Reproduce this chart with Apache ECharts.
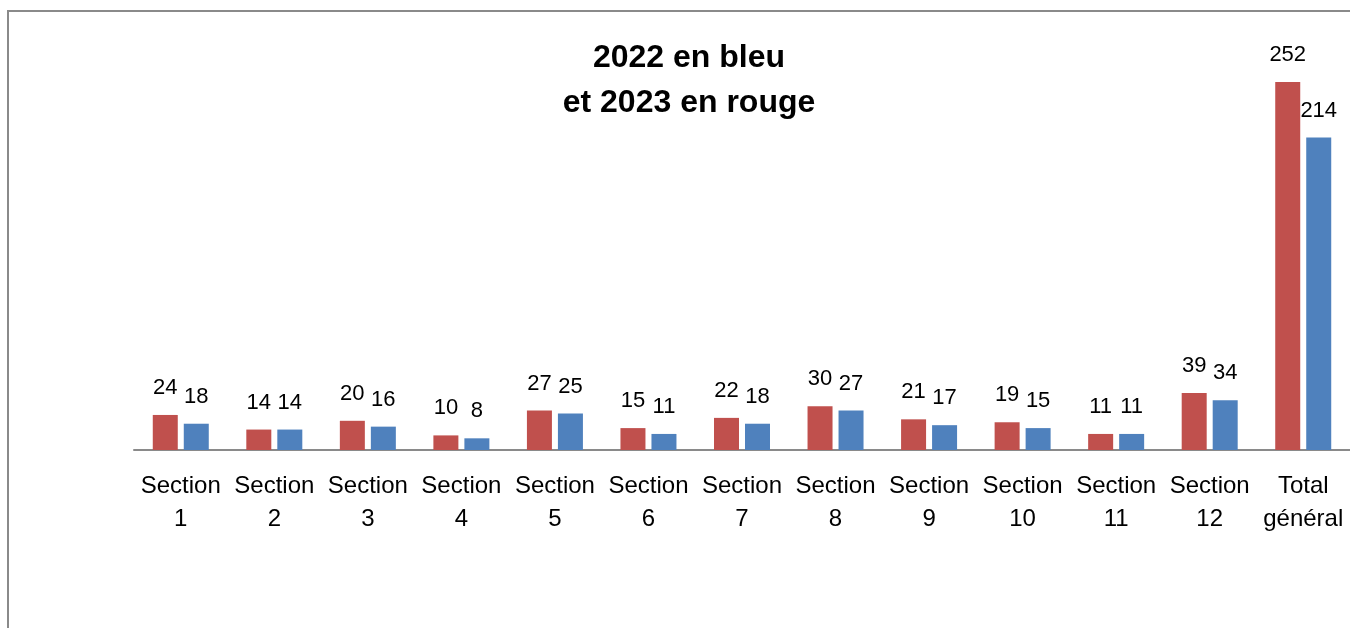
<!DOCTYPE html>
<html>
<head>
<meta charset="utf-8">
<script src="https://cdn.jsdelivr.net/npm/echarts@6/dist/echarts.min.js"></script>
<style>
html,body{margin:0;padding:0;background:#fff;}
#c{width:1350px;height:628px;}
</style>
</head>
<body>
<div id="c"></div>
<script>
const categories = ["Section 1","Section 2","Section 3","Section 4","Section 5","Section 6","Section 7","Section 8","Section 9","Section 10","Section 11","Section 12","Total général"];
const values2023 = [24,14,20,10,27,15,22,30,21,19,11,39,252];
const values2022 = [18,14,16,8,25,11,18,27,17,15,11,34,214];
const titleText = "2022 en bleu\net 2023 en rouge";

const chart = echarts.init(document.getElementById('c'), null, {renderer:'canvas'});
const font = "'Liberation Sans', Arial, sans-serif";
const labelCfg = {show:true, position:'top', distance:16, color:'#000', fontSize:22, fontFamily:font};
chart.setOption({
  animation:false,
  backgroundColor:'#fff',
  title:{
    text:titleText, left:684, top:31, textAlign:'center',
    textStyle:{fontFamily:font, fontWeight:'bold', fontSize:32, lineHeight:45, color:'#000'}
  },
  graphic:[{
    type:'polyline', silent:true,
    shape:{points:[[8,640],[8,11],[1360,11]]},
    style:{stroke:'#8a8a8a', lineWidth:2, fill:null}
  }],
  grid:{left:134, right:-1, top:12, bottom:178, containLabel:false},
  xAxis:{
    type:'category', data:categories,
    axisLine:{show:true, lineStyle:{color:'#8a8a8a', width:2}},
    axisTick:{show:false},
    axisLabel:{interval:0, margin:20, color:'#000', fontSize:24, lineHeight:33, fontFamily:font,
      formatter:v=>v.replace(' ','\n')}
  },
  yAxis:{type:'value', min:0, max:300, show:false, splitLine:{show:false}},
  series:[
    {name:'2023', type:'bar', data:values2023, barWidth:25, barGap:'24%',
      itemStyle:{color:'#C0504D'}, label:labelCfg},
    {name:'2022', type:'bar', data:values2022, barWidth:25, barGap:'24%',
      itemStyle:{color:'#4F81BD'}, label:labelCfg}
  ]
});
</script>
</body>
</html>
